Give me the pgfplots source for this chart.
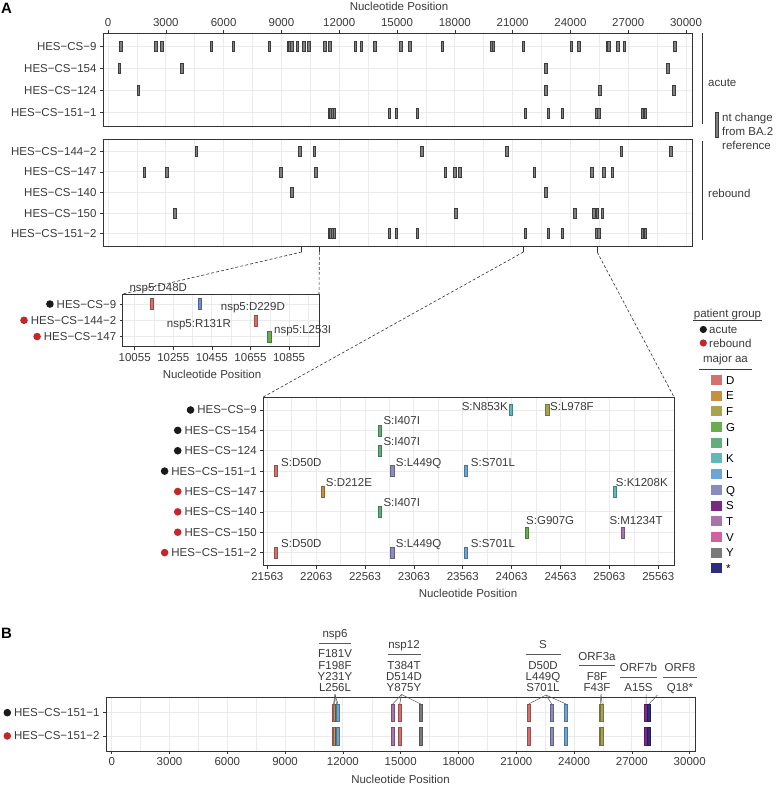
\documentclass[border=0pt]{standalone}
\usepackage{pgfplots}
\pgfplotsset{compat=1.18}
\usepackage{fontspec}
\setmainfont{Liberation Sans}

% amino acid colours (major aa)
\definecolor{cD}{HTML}{D4716E}
\definecolor{cE}{HTML}{C88F3E}
\definecolor{cF}{HTML}{A8A44A}
\definecolor{cG}{HTML}{68AD4E}
\definecolor{cI}{HTML}{62AD7C}
\definecolor{cK}{HTML}{61B8B8}
\definecolor{cL}{HTML}{6CA6D8}
\definecolor{cQ}{HTML}{8A8CC0}
\definecolor{cS}{HTML}{7A2A85}
\definecolor{cT}{HTML}{A874AA}
\definecolor{cV}{HTML}{D062A2}
\definecolor{cY}{HTML}{7A7A7A}
\definecolor{cStop}{HTML}{2C2C80}
\definecolor{cR}{HTML}{6F8FC8}
\definecolor{ntfill}{HTML}{808080}
\definecolor{ntdraw}{HTML}{3C3C3C}
\definecolor{acutecol}{HTML}{1A1A1A}
\definecolor{reboundcol}{HTML}{C4262E}
\definecolor{gridc}{HTML}{EBEBEB}
\definecolor{framec}{HTML}{333333}
\definecolor{txtc}{HTML}{3A3A3A}
\definecolor{segc}{HTML}{5A5A5A}

\pgfdeclareplotmark{ntbar}{\pgfpathrectangle{\pgfpoint{-1.3pt}{-5pt}}{\pgfpoint{2.6pt}{10pt}}\pgfusepathqfillstroke}
\pgfdeclareplotmark{aabar}{\pgfpathrectangle{\pgfpoint{-1.6pt}{-5.5pt}}{\pgfpoint{3.2pt}{11pt}}\pgfusepathqfillstroke}
\pgfdeclareplotmark{bbar}{\pgfpathrectangle{\pgfpoint{-1.5pt}{-8.8pt}}{\pgfpoint{3pt}{17.6pt}}\pgfusepathqfillstroke}

\newcommand{\pdot}[1]{\tikz[baseline=-4pt]\fill[#1] (0,0) circle (3.8pt);}
\newcommand{\fs}{\fontsize{11.5}{12}\selectfont}

\pgfplotsset{
  panel/.style={
    scale only axis, anchor=south west,
    axis line style={framec, line width=0.7pt},
    grid=both,
    major grid style={gridc, line width=0.9pt},
    minor grid style={gridc, line width=0.5pt},
    tick align=outside, major tick length=3pt, minor tick length=0pt,
    tick style={framec, line width=0.6pt},
    tick label style={font=\fs, text=txtc},
    y dir=reverse, ytick pos=left,
    scaled x ticks=false,
    /pgf/number format/assume math mode=true,
    /pgf/number format/1000 sep={},
  },
  nt/.style={only marks, mark=ntbar, mark options={fill=ntfill, draw=ntdraw, line width=0.4pt}},
  aa/.style 2 args={only marks, mark=#1, mark options={fill=#2, draw=#2!70!black, line width=0.35pt}},
}

\begin{document}
\begin{tikzpicture}[lbl/.style={font=\fs, inner sep=0pt, text height=8.3pt, text depth=0pt, text=txtc}]
\useasboundingbox (0pt,0pt) rectangle (777pt,786pt);

% ---------------- A: acute ----------------
\begin{axis}[panel, at={(103pt,660pt)}, width=589pt, height=93pt,
  xmin=-260, xmax=30310, ymin=0.4, ymax=4.6,
  xtick={0,3000,...,30000}, minor xtick={1500,4500,...,28500},
  xtick pos=upper, xticklabel pos=upper,
  ytick={1,...,4}, yticklabels={HES−CS−9,HES−CS−154,HES−CS−124,HES−CS−151−1}]
\addplot[nt] coordinates {
 (659,1) (2475,1) (2802,1) (5361,1) (6503,1) (8371,1) (9345,1) (9445,1) (9534,1)
 (9824,1) (10171,1) (10431,1) (11261,1) (11521,1) (12834,1) (13145,1) (13840,1)
 (15205,1) (15672,1) (17348,1) (19900,1) (19990,1) (21551,1) (24042,1) (24426,1)
 (25900,1) (25990,1) (26466,1) (26793,1) (29424,1)
 (571,2) (3824,2) (22714,2) (29060,2)
 (1574,3) (22714,3) (25532,3) (29372,3)
 (11514,4) (11565,4) (11665,4) (11738,4) (14584,4) (14947,4) (16038,4) (21643,4)
 (22837,4) (23579,4) (25355,4) (25455,4) (27732,4) (27888,4)
};
\end{axis}

% ---------------- A: rebound ----------------
\begin{axis}[panel, at={(103pt,540pt)}, width=589pt, height=107pt,
  xmin=-260, xmax=30310, ymin=0.4, ymax=5.6,
  xtick={0,3000,...,30000}, minor xtick={1500,4500,...,28500},
  xmajorticks=false, xticklabels={},
  ytick={1,...,5}, yticklabels={HES−CS−144−2,HES−CS−147,HES−CS−140,HES−CS−150,HES−CS−151−2}]
\addplot[nt] coordinates {
 (4567,1) (9948,1) (10706,1) (16279,1) (20690,1) (26638,1) (29216,1)
 (1884,2) (3046,2) (8962,2) (10778,2) (17504,2) (17990,2) (18267,2) (22122,2)
 (25117,2) (25740,2) (26170,2)
 (9532,3) (22714,3)
 (3460,4) (18044,4) (24235,4) (25197,4) (25390,4) (25652,4)
 (11514,5) (11565,5) (11665,5) (11738,5) (14584,5) (14947,5) (16038,5) (21643,5)
 (22837,5) (23579,5) (25355,5) (25455,5) (27732,5) (27888,5)
};
\end{axis}

% ---------------- nsp5 zoom ----------------
\begin{axis}[panel, at={(122.7pt,439.3pt)}, width=196.3pt, height=52.7pt,
  xmin=9993, xmax=11010, ymin=0.38, ymax=3.62,
  xtick={10055,10255,...,10855}, minor xtick={10155,10355,10555,10755,10955},
  xtick pos=lower, xticklabel pos=lower,
  ytick={1,2,3}, yticklabels={{\pdot{acutecol}\hspace{3pt}HES−CS−9},{\pdot{reboundcol}\hspace{3pt}HES−CS−144−2},{\pdot{reboundcol}\hspace{3pt}HES−CS−147}}]
\addplot[aa={aabar}{cD}] coordinates {(10145,1) (10683,2)};
\addplot[aa={aabar}{cR}] coordinates {(10392,1)};
\addplot[aa={aabar}{cG}] coordinates {(10752,3)};
\end{axis}

% ---------------- spike zoom ----------------
\begin{axis}[panel, at={(263.3pt,220.3pt)}, width=410.7pt, height=168.7pt,
  xmin=21522, xmax=25724, ymin=0.36, ymax=8.64,
  xtick={21563,22063,...,25563}, minor xtick={21813,22313,...,25313},
  xtick pos=lower, xticklabel pos=lower,
  ytick={1,...,8}, yticklabels={
   {\pdot{acutecol}\hspace{3pt}HES−CS−9},{\pdot{acutecol}\hspace{3pt}HES−CS−154},
   {\pdot{acutecol}\hspace{3pt}HES−CS−124},{\pdot{acutecol}\hspace{3pt}HES−CS−151−1},
   {\pdot{reboundcol}\hspace{3pt}HES−CS−147},{\pdot{reboundcol}\hspace{3pt}HES−CS−140},
   {\pdot{reboundcol}\hspace{3pt}HES−CS−150},{\pdot{reboundcol}\hspace{3pt}HES−CS−151−2}}]
\addplot[aa={aabar}{cD}] coordinates {(21649,4) (21649,8)};
\addplot[aa={aabar}{cE}] coordinates {(22133,5)};
\addplot[aa={aabar}{cF}] coordinates {(24426,1)};
\addplot[aa={aabar}{cG}] coordinates {(24218,7)};
\addplot[aa={aabar}{cI}] coordinates {(22715,2) (22715,3) (22715,6)};
\addplot[aa={aabar}{cK}] coordinates {(24055,1) (25118,5)};
\addplot[aa={aabar}{cL}] coordinates {(23595,4) (23595,8)};
\addplot[aa={aabar}{cQ}] coordinates {(22841,4) (22841,8)};
\addplot[aa={aabar}{cT}] coordinates {(25197,7)};
\end{axis}

% ---------------- B ----------------
\begin{axis}[panel, at={(106pt,35pt)}, width=589pt, height=53.3pt,
  xmin=-296, xmax=30275, ymin=0.356, ymax=2.644,
  xtick={0,3000,...,30000}, minor xtick={1500,4500,...,28500},
  xtick pos=lower, xticklabel pos=lower,
  ytick={1,2}, yticklabels={{\pdot{acutecol}\hspace{3pt}HES−CS−151−1},{\pdot{reboundcol}\hspace{3pt}HES−CS−151−2}}]
\addplot[aa={bbar}{cV}] coordinates {(11514,1) (11514,2)};
\addplot[aa={bbar}{cF}] coordinates {(11565,1) (11565,2) (25355,1) (25355,2) (25455,1) (25455,2)};
\addplot[aa={bbar}{cY}] coordinates {(11665,1) (11665,2) (16038,1) (16038,2)};
\addplot[aa={bbar}{cL}] coordinates {(11738,1) (11738,2) (23579,1) (23579,2)};
\addplot[aa={bbar}{cT}] coordinates {(14584,1) (14584,2)};
\addplot[aa={bbar}{cD}] coordinates {(14947,1) (14947,2) (21643,1) (21643,2)};
\addplot[aa={bbar}{cQ}] coordinates {(22837,1) (22837,2)};
\addplot[aa={bbar}{cS}] coordinates {(27732,1) (27732,2)};
\addplot[aa={bbar}{cStop}] coordinates {(27888,1) (27888,2)};
\end{axis}

% ---------------- annotations (pixel coordinates, y down) ----------------
\begin{scope}[shift={(0pt,786pt)}, x=1pt, y=-1pt]
\node[font=\fontsize{15}{15}\selectfont\bfseries, inner sep=0pt] at (6.5,8) {A};
\node[font=\fontsize{15}{15}\selectfont\bfseries, inner sep=0pt] at (6.5,633) {B};
\node[lbl] at (399,6) {Nucleotide Position};
\node[lbl] at (212,374) {Nucleotide Position};
\node[lbl] at (468,593.3) {Nucleotide Position};
\node[lbl] at (400.5,779.8) {Nucleotide Position};

% facet brackets and nt legend
\draw[framec, line width=0.8pt] (702.3,33) -- (702.3,124);
\draw[framec, line width=0.8pt] (702.3,141) -- (702.3,240);
\node[lbl, anchor=west] at (708,82) {acute};
\node[lbl, anchor=west] at (708,193) {rebound};
\filldraw[fill=ntfill, draw=ntdraw, line width=0.4pt] (715.5,112) rectangle (718.5,137);
\node[lbl, anchor=west] at (722,117) {nt change};
\node[lbl, anchor=west] at (722,131) {from BA.2};
\node[lbl, anchor=west] at (722,145) {reference};

% zoom indicators
\draw[framec, line width=0.6pt] (301.7,246) -- (301.7,252) (319.4,246) -- (319.4,252)
  (523.5,246) -- (523.5,252) (597.1,246) -- (597.1,252);
\draw[framec, line width=0.6pt, dash pattern=on 3pt off 2pt] (301.7,252) -- (122.7,294)
  (319.4,252) -- (319,294) (523.5,252) -- (263.3,397) (597.1,252) -- (674,397);

% nsp5 labels
\node[lbl, anchor=west] at (129.3,287.3) {nsp5:D48D};
\node[lbl, anchor=west] at (220.7,306.7) {nsp5:D229D};
\node[lbl, anchor=west] at (166.7,323.3) {nsp5:R131R};
\node[lbl, anchor=west] at (274,329) {nsp5:L253I};

% spike labels
\node[lbl, anchor=east] at (508,406) {S:N853K};
\node[lbl, anchor=west] at (550,406) {S:L978F};
\node[lbl, anchor=west] at (383.3,420) {S:I407I};
\node[lbl, anchor=west] at (383.3,441.7) {S:I407I};
\node[lbl, anchor=west] at (383.3,502.7) {S:I407I};
\node[lbl, anchor=west] at (281,462.3) {S:D50D};
\node[lbl, anchor=west] at (281,543.3) {S:D50D};
\node[lbl, anchor=west] at (395.7,462.3) {S:L449Q};
\node[lbl, anchor=west] at (395.7,543.3) {S:L449Q};
\node[lbl, anchor=west] at (470.7,462.7) {S:S701L};
\node[lbl, anchor=west] at (470.7,543.3) {S:S701L};
\node[lbl, anchor=west] at (325.7,482.3) {S:D212E};
\node[lbl, anchor=west] at (615.7,482.7) {S:K1208K};
\node[lbl, anchor=west] at (526,520.7) {S:G907G};
\node[lbl, anchor=west] at (609.3,520.7) {S:M1234T};

% legend
\node[lbl] at (727.5,313) {patient group};
\draw[txtc, line width=0.6pt] (693,320.7) -- (762,320.7);
\fill[acutecol] (703.3,329.5) circle (3.6pt);
\node[lbl, anchor=west] at (709,329.5) {acute};
\fill[reboundcol] (703.3,343) circle (3.6pt);
\node[lbl, anchor=west] at (709,343) {rebound};
\node[lbl] at (725.5,358) {major aa};
\draw[txtc, line width=0.6pt] (699,369.3) -- (752,369.3);
\foreach \c/\t [count=\i from 0] in {cD/D,cE/E,cF/F,cG/G,cI/I,cK/K,cL/L,cQ/Q,cS/S,cT/T,cV/V,cY/Y,cStop/*}{
  \fill[\c] (711,{380+15.7*\i-5}) rectangle (721.7,{380+15.7*\i+5});
  \node[lbl, anchor=west, text=black] at (726,{380+15.7*\i}) {\t};
}

% panel B gene labels
\begin{scope}[every node/.style={lbl}]
\node at (335,633.5) {nsp6};
\node at (335,653.7) {F181V}; \node at (335,665) {F198F};
\node at (335,676.3) {Y231Y}; \node at (335,687.6) {L256L};
\node at (404,644.7) {nsp12};
\node at (404,665) {T384T}; \node at (404,676.3) {D514D}; \node at (404,687.6) {Y875Y};
\node at (543,644.7) {S};
\node at (543,665) {D50D}; \node at (543,676.3) {L449Q}; \node at (543,687.6) {S701L};
\node at (597,656) {ORF3a};
\node at (597,676.3) {F8F}; \node at (597,687.6) {F43F};
\node at (638.5,667.5) {ORF7b};
\node at (638.5,687.6) {A15S};
\node at (680,667.5) {ORF8};
\node at (680,687.6) {Q18*};
\end{scope}
\draw[segc, line width=0.6pt] (319,643.5) -- (351,643.5) (387.5,654.7) -- (420.5,654.7)
  (525.5,654.7) -- (560.5,654.7) (579,665.7) -- (615,665.7)
  (620,677.5) -- (657,677.5) (663,677.5) -- (697,677.5);
\foreach \x in {333.5,334.5,336.5,337.9} \draw[segc, line width=0.5pt] (335,694.5) -- (\x,704);
\foreach \x in {392.7,399.7,420.7} \draw[segc, line width=0.5pt] (401.5,694.5) -- (\x,704);
\foreach \x in {528.7,551.7,566.0} \draw[segc, line width=0.5pt] (546,695) -- (\x,704);
\foreach \x in {600.2,602.1} \draw[segc, line width=0.5pt] (601,694.5) -- (\x,704);
\draw[segc, line width=0.5pt] (646,694.5) -- (646,704) (657.5,695) -- (649,704);
\end{scope}
\end{tikzpicture}
\end{document}
